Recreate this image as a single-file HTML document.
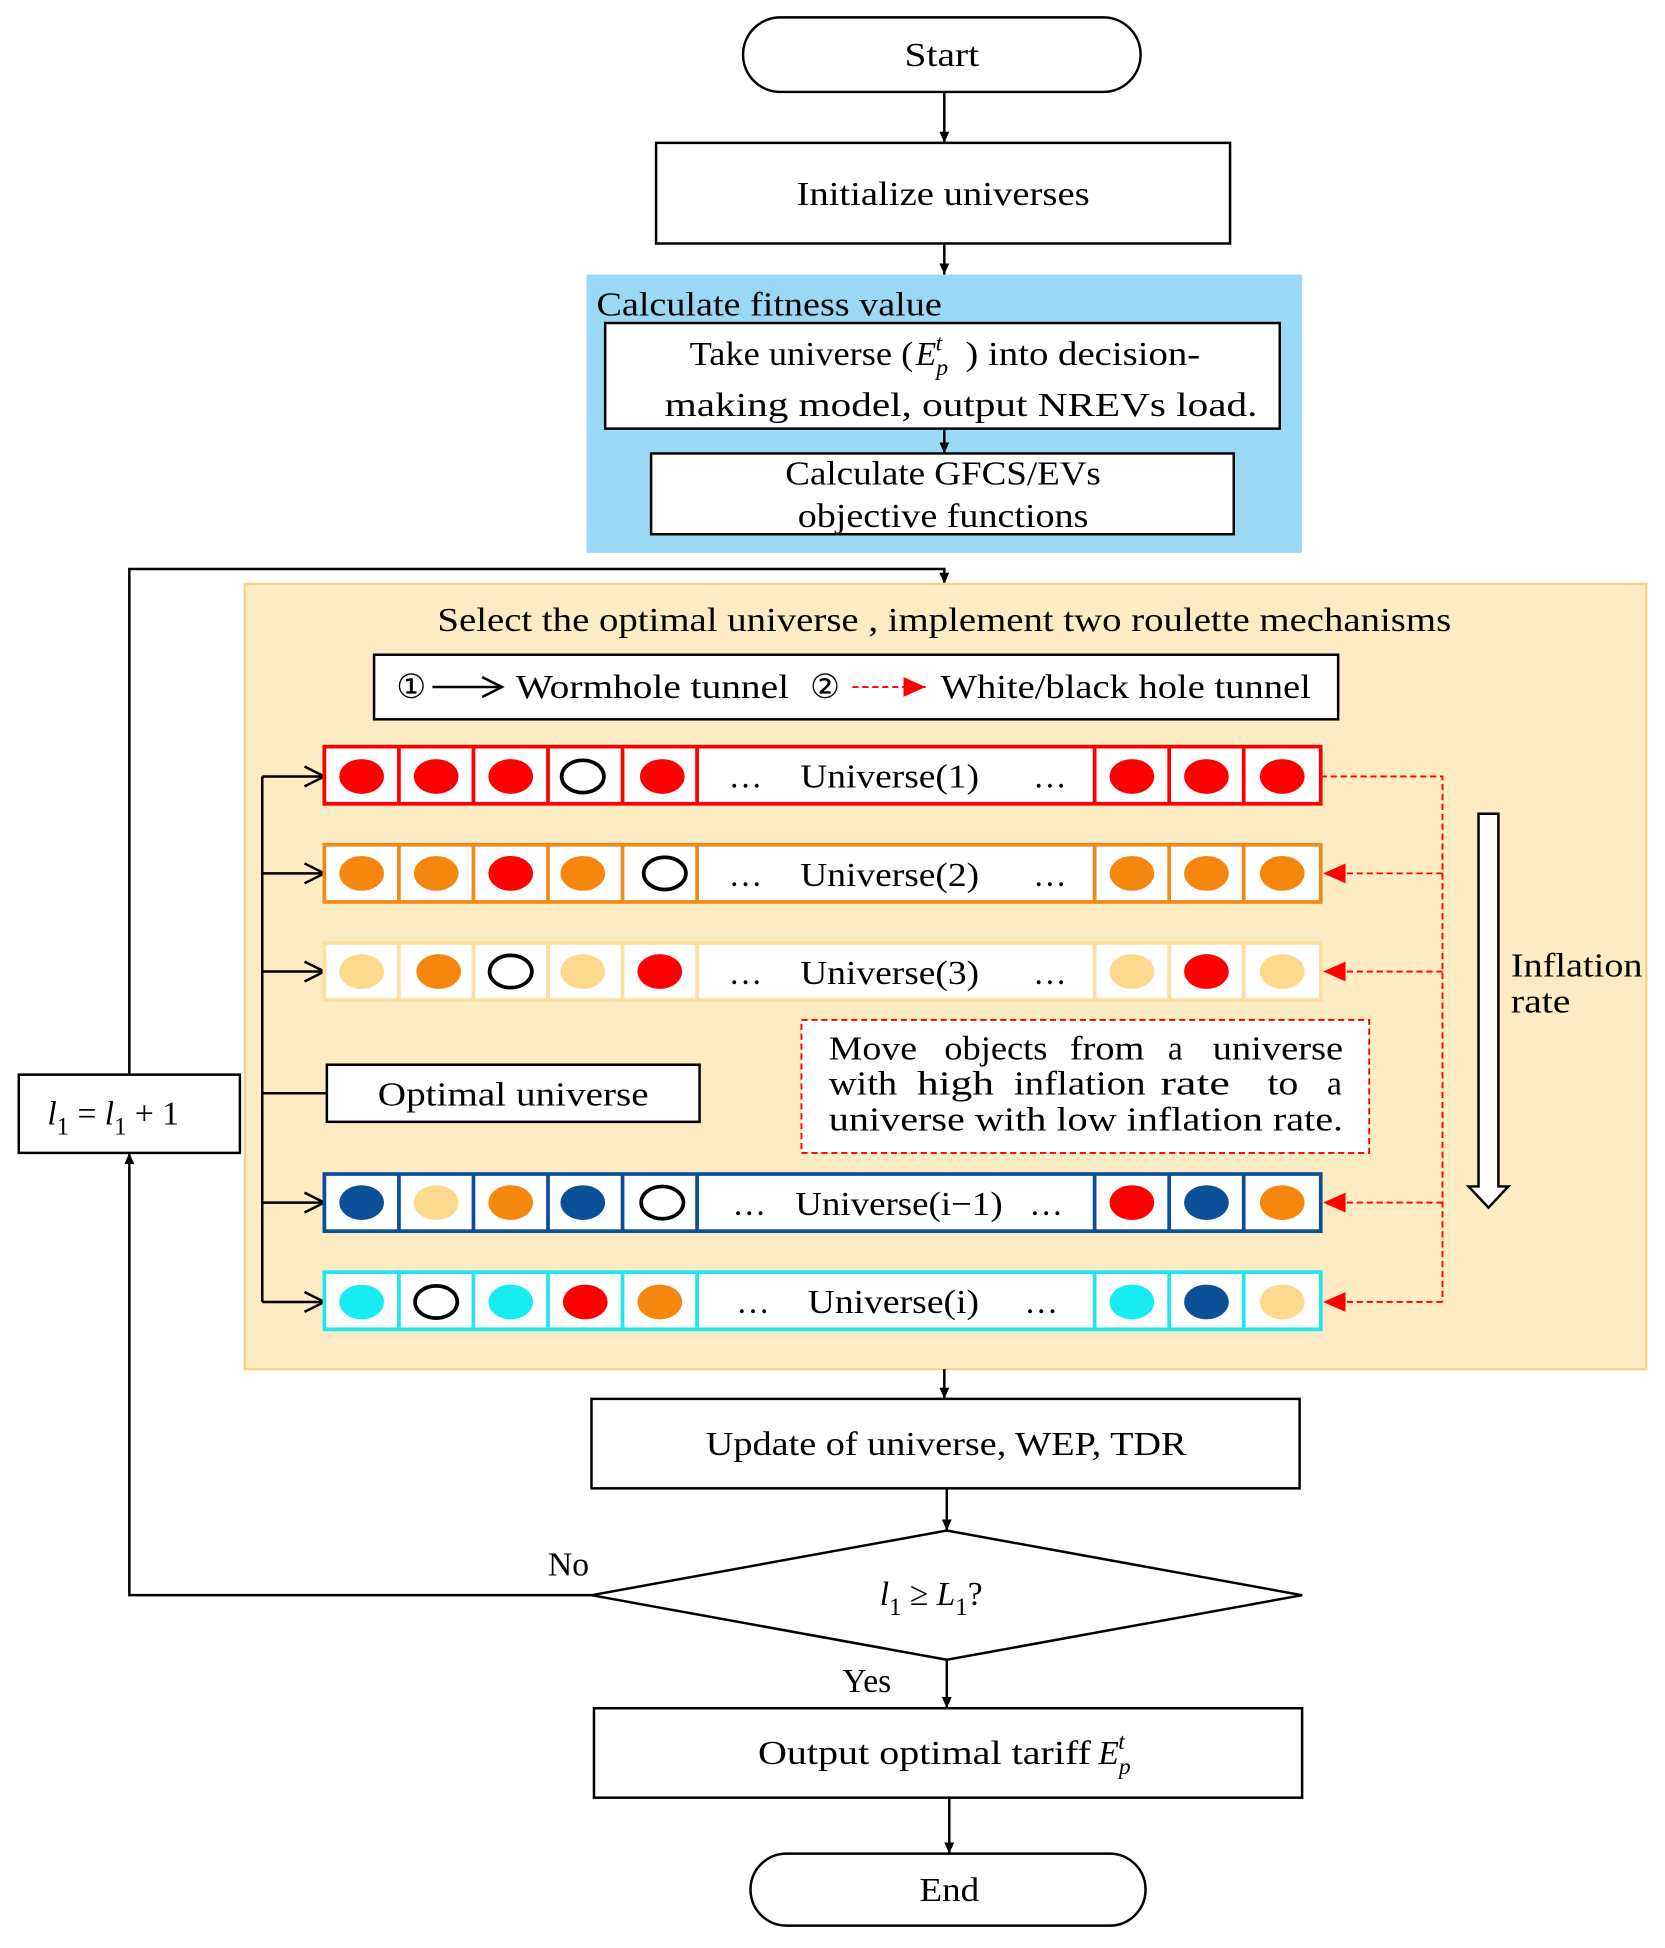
<!DOCTYPE html>
<html><head><meta charset="utf-8"><style>html,body{margin:0;padding:0;background:#fff}svg{display:block}</style></head>
<body>
<svg width="1665" height="1948" viewBox="0 0 1340 1568" xmlns="http://www.w3.org/2000/svg" font-family="Liberation Serif, serif" font-size="27">
<defs>
<marker id="a" markerWidth="10" markerHeight="10" refX="9" refY="5" orient="auto" markerUnits="userSpaceOnUse"><path d="M0,1 L9,5 L0,9 z" fill="#000"/></marker>
<marker id="o" markerWidth="20" markerHeight="20" refX="18" refY="10" orient="auto" markerUnits="userSpaceOnUse"><path d="M2,2 L18,10 L2,18" fill="none" stroke="#000" stroke-width="2"/></marker>
<marker id="r" markerWidth="20" markerHeight="20" refX="18" refY="10" orient="auto" markerUnits="userSpaceOnUse"><path d="M0,2 L18,10 L0,18 z" fill="#f00"/></marker>
</defs>
<g stroke="#000" stroke-width="2" fill="#fff">
<rect x="598" y="14" width="320" height="60" rx="30"/>
<line x1="760" y1="74" x2="760" y2="115" marker-end="url(#a)"/>
<rect x="528" y="115" width="462" height="81"/>
<line x1="760" y1="196" x2="760" y2="221" marker-end="url(#a)"/>
<rect x="472" y="221" width="576" height="224" fill="#9ad8f5" stroke="none"/>
<rect x="487" y="260" width="543" height="85"/>
<line x1="760" y1="345" x2="760" y2="365" marker-end="url(#a)"/>
<rect x="524" y="365" width="469" height="65"/>
<polyline points="104,865 104,458 760,458 760,470" fill="none" marker-end="url(#a)"/>
<rect x="197" y="470" width="1128" height="632" fill="#fdebc4" stroke="#f5d58a"/>
<rect x="301" y="527" width="776" height="52"/>
<line x1="211" y1="625" x2="211" y2="1048"/>
<line x1="211" y1="625" x2="261" y2="625" marker-end="url(#o)"/>
<line x1="211" y1="703" x2="261" y2="703" marker-end="url(#o)"/>
<line x1="211" y1="782" x2="261" y2="782" marker-end="url(#o)"/>
<line x1="211" y1="968" x2="261" y2="968" marker-end="url(#o)"/>
<line x1="211" y1="1048" x2="261" y2="1048" marker-end="url(#o)"/>
<line x1="211" y1="880" x2="263" y2="880"/>
<rect x="263" y="857" width="300" height="46"/>
<rect x="15" y="865" width="178" height="63"/>
<polyline points="476,1284 104,1284 104,928" fill="none" marker-end="url(#a)"/>
<line x1="760" y1="1102" x2="760" y2="1126" marker-end="url(#a)"/>
<rect x="476" y="1126" width="570" height="72"/>
<line x1="762" y1="1198" x2="762" y2="1232" marker-end="url(#a)"/>
<polygon points="476,1284 762,1232 1048,1284 762,1336"/>
<line x1="762" y1="1336" x2="762" y2="1375" marker-end="url(#a)"/>
<rect x="478" y="1375" width="570" height="72"/>
<line x1="764" y1="1447" x2="764" y2="1492" marker-end="url(#a)"/>
<rect x="604" y="1492" width="318" height="58" rx="29"/>
<path d="M1190,655 H1206 V955 H1214 L1198,972 L1182,955 H1190 Z"/>
</g>
<g fill="none" stroke="#f00" stroke-width="1.5" stroke-dasharray="5,3">
<polyline points="1063,625 1161,625 1161,1048"/>
<line x1="1161" y1="703" x2="1065" y2="703" marker-end="url(#r)"/>
<line x1="1161" y1="782" x2="1065" y2="782" marker-end="url(#r)"/>
<line x1="1161" y1="968" x2="1065" y2="968" marker-end="url(#r)"/>
<line x1="1161" y1="1048" x2="1065" y2="1048" marker-end="url(#r)"/>
<rect x="645" y="821" width="457" height="107" fill="#fff"/>
<line x1="686" y1="553" x2="745" y2="553" marker-end="url(#r)"/>
</g>
<line x1="348" y1="553" x2="404" y2="553" stroke="#000" stroke-width="2" marker-end="url(#o)"/>
<g stroke-width="3">
<g stroke="#f00"><rect x="261" y="601" width="802" height="46" fill="#fff"/><path d="M321,601V647M381,601V647M441,601V647M501,601V647M561,601V647M881,601V647M941,601V647M1001,601V647"/></g>
<g stroke="#f28a1a"><rect x="261" y="680" width="802" height="46" fill="#fff"/><path d="M321,680V726M381,680V726M441,680V726M501,680V726M561,680V726M881,680V726M941,680V726M1001,680V726"/></g>
<g stroke="#fde0a0"><rect x="261" y="759" width="802" height="46" fill="#fff"/><path d="M321,759V805M381,759V805M441,759V805M501,759V805M561,759V805M881,759V805M941,759V805M1001,759V805"/></g>
<g stroke="#0b4f96"><rect x="261" y="945" width="802" height="46" fill="#fff"/><path d="M321,945V991M381,945V991M441,945V991M501,945V991M561,945V991M881,945V991M941,945V991M1001,945V991"/></g>
<g stroke="#22e5ef"><rect x="261" y="1024" width="802" height="46" fill="#fff"/><path d="M321,1024V1070M381,1024V1070M441,1024V1070M501,1024V1070M561,1024V1070M881,1024V1070M941,1024V1070M1001,1024V1070"/></g>
</g>
<g>
<g transform="translate(0,625)">
<ellipse cx="291" rx="18" ry="14" fill="#f00"/><ellipse cx="351" rx="18" ry="14" fill="#f00"/><ellipse cx="411" rx="18" ry="14" fill="#f00"/><ellipse cx="469" rx="17" ry="13" fill="#fff" stroke="#000" stroke-width="3"/><ellipse cx="533" rx="18" ry="14" fill="#f00"/><ellipse cx="911" rx="18" ry="14" fill="#f00"/><ellipse cx="971" rx="18" ry="14" fill="#f00"/><ellipse cx="1032" rx="18" ry="14" fill="#f00"/></g>
<g transform="translate(0,703)">
<ellipse cx="291" rx="18" ry="14" fill="#f5870f"/><ellipse cx="351" rx="18" ry="14" fill="#f5870f"/><ellipse cx="411" rx="18" ry="14" fill="#f00"/><ellipse cx="469" rx="18" ry="14" fill="#f5870f"/><ellipse cx="535" rx="17" ry="13" fill="#fff" stroke="#000" stroke-width="3"/><ellipse cx="911" rx="18" ry="14" fill="#f5870f"/><ellipse cx="971" rx="18" ry="14" fill="#f5870f"/><ellipse cx="1032" rx="18" ry="14" fill="#f5870f"/></g>
<g transform="translate(0,782)">
<ellipse cx="291" rx="18" ry="14" fill="#fcd98c"/><ellipse cx="353" rx="18" ry="14" fill="#f5870f"/><ellipse cx="411" rx="17" ry="13" fill="#fff" stroke="#000" stroke-width="3"/><ellipse cx="469" rx="18" ry="14" fill="#fcd98c"/><ellipse cx="531" rx="18" ry="14" fill="#f00"/><ellipse cx="911" rx="18" ry="14" fill="#fcd98c"/><ellipse cx="971" rx="18" ry="14" fill="#f00"/><ellipse cx="1032" rx="18" ry="14" fill="#fcd98c"/></g>
<g transform="translate(0,968)">
<ellipse cx="291" rx="18" ry="14" fill="#0b4f96"/><ellipse cx="351" rx="18" ry="14" fill="#fcd98c"/><ellipse cx="411" rx="18" ry="14" fill="#f5870f"/><ellipse cx="469" rx="18" ry="14" fill="#0b4f96"/><ellipse cx="533" rx="17" ry="13" fill="#fff" stroke="#000" stroke-width="3"/><ellipse cx="911" rx="18" ry="14" fill="#f00"/><ellipse cx="971" rx="18" ry="14" fill="#0b4f96"/><ellipse cx="1032" rx="18" ry="14" fill="#f5870f"/></g>
<g transform="translate(0,1048)">
<ellipse cx="291" rx="18" ry="14" fill="#16ecf2"/><ellipse cx="351" rx="17" ry="13" fill="#fff" stroke="#000" stroke-width="3"/><ellipse cx="411" rx="18" ry="14" fill="#16ecf2"/><ellipse cx="471" rx="18" ry="14" fill="#f00"/><ellipse cx="531" rx="18" ry="14" fill="#f5870f"/><ellipse cx="911" rx="18" ry="14" fill="#16ecf2"/><ellipse cx="971" rx="18" ry="14" fill="#0b4f96"/><ellipse cx="1032" rx="18" ry="14" fill="#fcd98c"/></g>
</g>
<g fill="#000">
<text x="728" y="53" textLength="60" lengthAdjust="spacingAndGlyphs">Start</text>
<text x="641" y="165" textLength="236" lengthAdjust="spacingAndGlyphs">Initialize universes</text>
<text x="480" y="254" textLength="278" lengthAdjust="spacingAndGlyphs">Calculate fitness value</text>
<text x="555" y="294" textLength="180" lengthAdjust="spacingAndGlyphs">Take universe (</text>
<text x="737" y="294" font-style="italic">E<tspan font-size="19" dy="8">p</tspan><tspan font-size="19" dx="-10" dy="-20">t</tspan></text>
<text x="777" y="294" textLength="189" lengthAdjust="spacingAndGlyphs">) into decision-</text>
<text x="535" y="335" textLength="477" lengthAdjust="spacingAndGlyphs">making model, output NREVs load.</text>
<text x="632" y="390" textLength="254" lengthAdjust="spacingAndGlyphs">Calculate GFCS/EVs</text>
<text x="642" y="424" textLength="234" lengthAdjust="spacingAndGlyphs">objective functions</text>
<text x="352" y="508" textLength="816" lengthAdjust="spacingAndGlyphs">Select the optimal universe , implement two roulette mechanisms</text>
<text x="331" y="562" text-anchor="middle">①</text>
<text x="415" y="562" textLength="220" lengthAdjust="spacingAndGlyphs">Wormhole tunnel</text>
<text x="664" y="562" text-anchor="middle">②</text>
<text x="757" y="562" textLength="298" lengthAdjust="spacingAndGlyphs">White/black hole tunnel</text>
<text x="600" y="634" text-anchor="middle">…</text><text x="644" y="634" textLength="144" lengthAdjust="spacingAndGlyphs">Universe(1)</text><text x="845" y="634" text-anchor="middle">…</text>
<text x="600" y="713" text-anchor="middle">…</text><text x="644" y="713" textLength="144" lengthAdjust="spacingAndGlyphs">Universe(2)</text><text x="845" y="713" text-anchor="middle">…</text>
<text x="600" y="792" text-anchor="middle">…</text><text x="644" y="792" textLength="144" lengthAdjust="spacingAndGlyphs">Universe(3)</text><text x="845" y="792" text-anchor="middle">…</text>
<text x="603" y="978" text-anchor="middle">…</text><text x="640" y="978" textLength="167" lengthAdjust="spacingAndGlyphs">Universe(i−1)</text><text x="842" y="978" text-anchor="middle">…</text>
<text x="606" y="1057" text-anchor="middle">…</text><text x="650" y="1057" textLength="138" lengthAdjust="spacingAndGlyphs">Universe(i)</text><text x="838" y="1057" text-anchor="middle">…</text>
<text x="304" y="890" textLength="218" lengthAdjust="spacingAndGlyphs">Optimal universe</text>
<text x="1216" y="786" textLength="106" lengthAdjust="spacingAndGlyphs">Inflation</text>
<text x="1216" y="815" textLength="48" lengthAdjust="spacingAndGlyphs">rate</text>
<text y="853"><tspan x="667" textLength="71" lengthAdjust="spacingAndGlyphs">Move</tspan><tspan x="760" textLength="83" lengthAdjust="spacingAndGlyphs">objects</tspan><tspan x="861" textLength="60" lengthAdjust="spacingAndGlyphs">from</tspan><tspan x="940">a</tspan><tspan x="976" textLength="105" lengthAdjust="spacingAndGlyphs">universe</tspan></text>
<text y="881"><tspan x="667" textLength="55" lengthAdjust="spacingAndGlyphs">with</tspan><tspan x="738" textLength="62" lengthAdjust="spacingAndGlyphs">high</tspan><tspan x="816" textLength="106" lengthAdjust="spacingAndGlyphs">inflation</tspan><tspan x="934" textLength="56" lengthAdjust="spacingAndGlyphs">rate</tspan><tspan x="1020" textLength="25" lengthAdjust="spacingAndGlyphs">to</tspan><tspan x="1068">a</tspan></text>
<text x="667" y="910" textLength="414" lengthAdjust="spacingAndGlyphs">universe with low inflation rate.</text>
<text x="38" y="905" font-style="italic">l<tspan font-style="normal" font-size="20" dy="8">1</tspan><tspan font-style="normal" dy="-8"> = </tspan>l<tspan font-style="normal" font-size="20" dy="8">1</tspan><tspan font-style="normal" dy="-8"> + 1</tspan></text>
<text x="568" y="1171" textLength="387" lengthAdjust="spacingAndGlyphs">Update of universe, WEP, TDR</text>
<text x="441" y="1268">No</text>
<text x="708" y="1292" font-style="italic">l<tspan font-style="normal" font-size="20" dy="8">1</tspan><tspan font-style="normal" dy="-8"> ≥ </tspan>L<tspan font-style="normal" font-size="20" dy="8">1</tspan><tspan font-style="normal" dy="-8">?</tspan></text>
<text x="678" y="1362">Yes</text>
<text x="610" y="1420"><tspan textLength="268" lengthAdjust="spacingAndGlyphs">Output optimal tariff</tspan><tspan dx="6" font-style="italic">E</tspan><tspan font-style="italic" font-size="19" dy="8">p</tspan><tspan font-style="italic" font-size="19" dx="-10" dy="-20">t</tspan></text>
<text x="740" y="1530" textLength="48" lengthAdjust="spacingAndGlyphs">End</text>
</g>
</svg>
</body></html>
